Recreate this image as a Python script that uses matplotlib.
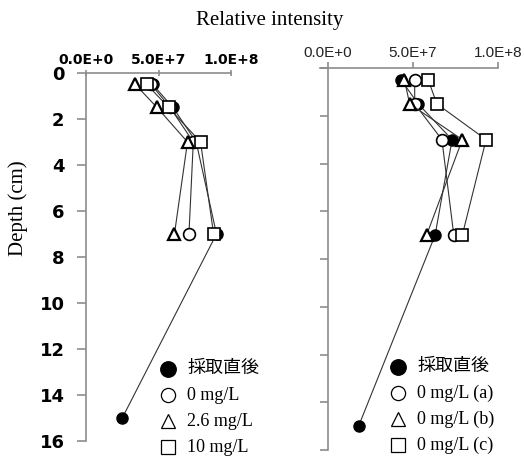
import matplotlib
matplotlib.use('Agg')
import matplotlib.pyplot as plt
from matplotlib.lines import Line2D

# depth (cm) of each sample
depth_all = [0.5, 1.5, 3, 7, 15]
depth = [0.5, 1.5, 3, 7]

# left panel: relative intensity
left_fresh = [4.6e7, 6.0e7, 7.6e7, 9.0e7, 2.5e7]
left_0 = [4.5e7, 5.8e7, 7.4e7, 7.1e7]
left_26 = [3.4e7, 4.9e7, 7.0e7, 6.1e7]
left_10 = [4.2e7, 5.7e7, 7.9e7, 8.8e7]
left_labels = ['採取直後', '0 mg/L', '2.6 mg/L', '10 mg/L']

# right panel: relative intensity
right_fresh = [4.3e7, 5.3e7, 7.3e7, 6.3e7, 1.8e7]
right_a = [5.1e7, 5.1e7, 6.7e7, 7.4e7]
right_b = [4.5e7, 4.8e7, 7.9e7, 5.8e7]
right_c = [5.9e7, 6.4e7, 9.3e7, 7.9e7]
right_labels = ['採取直後', '0 mg/L (a)', '0 mg/L (b)', '0 mg/L (c)']

x_ticks = [0, 5e7, 1e8]
x_ticklabels = ['0.0E+0', '5.0E+7', '1.0E+8']
y_ticks = list(range(0, 17, 2))

SPINE = '#8c8c8c'
LINE = '#333333'
SERIF = ['Liberation Serif', 'Noto Sans CJK JP']

styles = [
    dict(marker='o', ms=8, mfc='black', mec='black', mew=1.0),
    dict(marker='o', ms=8.5, mfc='white', mec='black', mew=1.2),
    dict(marker='^', ms=8.5, mfc='white', mec='black', mew=1.6),
    dict(marker='s', ms=8, mfc='white', mec='black', mew=1.2),
]

fig = plt.figure(figsize=(5.24, 4.57), dpi=100)
W, H = 524.0, 457.0


def draw_series(ax, series):
    for (d, v), st in zip(series, styles):
        ax.plot(v, d, color=LINE, lw=0.8, **st)


def legend_rows(x, y0, step, labels):
    for i, (lab, st) in enumerate(zip(labels, styles)):
        y = y0 + i * step
        st2 = dict(st)
        st2['ms'] = st['ms'] * 1.2
        st2['mew'] = 0.9
        if st['mfc'] == 'black':
            st2['ms'] = st['ms'] * 1.4
        fig.add_artist(Line2D([x / W], [1 - y / H], transform=fig.transFigure,
                              linestyle='none', **st2))
        fig.text((x + 19) / W, 1 - y / H, lab, va='center', ha='left',
                 fontsize=13, family=SERIF)


# ---------------- left panel ----------------
ax1 = fig.add_axes([86 / W, 1 - 441 / H, 145 / W, 368 / H])
draw_series(ax1, [(depth_all, left_fresh), (depth, left_0),
                  (depth, left_26), (depth, left_10)])
ax1.set_xlim(0, 1e8)
ax1.set_ylim(16, 0)
ax1.xaxis.tick_top()
ax1.set_xticks(x_ticks)
ax1.set_xticklabels(x_ticklabels, fontsize=10, fontweight='bold', family='DejaVu Sans')
ax1.set_yticks(y_ticks)
ax1.set_yticklabels([str(t) for t in y_ticks], fontsize=13, fontweight='bold',
                    family='DejaVu Sans')
ax1.tick_params(axis='x', direction='inout', length=5, width=1.2, color=SPINE, pad=2)
ax1.tick_params(axis='y', direction='out', length=6.5, width=1.2, color=SPINE, pad=9)
for s in ['right', 'bottom']:
    ax1.spines[s].set_visible(False)
for s in ['top', 'left']:
    ax1.spines[s].set_color(SPINE)
    ax1.spines[s].set_linewidth(1.2)
ax1.patch.set_alpha(0)

# ---------------- right panel ----------------
ax2 = fig.add_axes([320 / W, 1 - 450 / H, 178 / W, 382 / H])
draw_series(ax2, [(depth_all, right_fresh), (depth, right_a),
                  (depth, right_b), (depth, right_c)])
ax2.set_xlim(-4.7e6, 1e8)
ax2.set_ylim(16, 0)
ax2.xaxis.tick_top()
ax2.set_xticks(x_ticks)
ax2.set_xticklabels(x_ticklabels, fontsize=11, family='Liberation Sans', color='#222222')
ax2.set_yticks(y_ticks)
ax2.set_yticklabels([])
ax2.spines['left'].set_position(('data', 0))
ax2.tick_params(axis='x', direction='out', length=4.5, width=1.2, color=SPINE, pad=1.5)
ax2.tick_params(axis='y', direction='out', length=5.8, width=1.2, color=SPINE)
for s in ['right', 'bottom']:
    ax2.spines[s].set_visible(False)
for s in ['top', 'left']:
    ax2.spines[s].set_color(SPINE)
    ax2.spines[s].set_linewidth(1.2)
ax2.patch.set_alpha(0)

# ---------------- texts and legends ----------------
fig.text(270 / W, 1 - 20 / H, 'Relative intensity', ha='center', va='center',
         fontsize=15, family='Liberation Serif')
fig.text(18 / W, 1 - 208 / H, 'Depth (cm)', ha='center', va='center',
         rotation=90, fontsize=15, family='Liberation Serif')

legend_rows(168, 369, 26.0, left_labels)
legend_rows(398, 367, 26.0, right_labels)

fig.savefig('out.png', dpi=100)
